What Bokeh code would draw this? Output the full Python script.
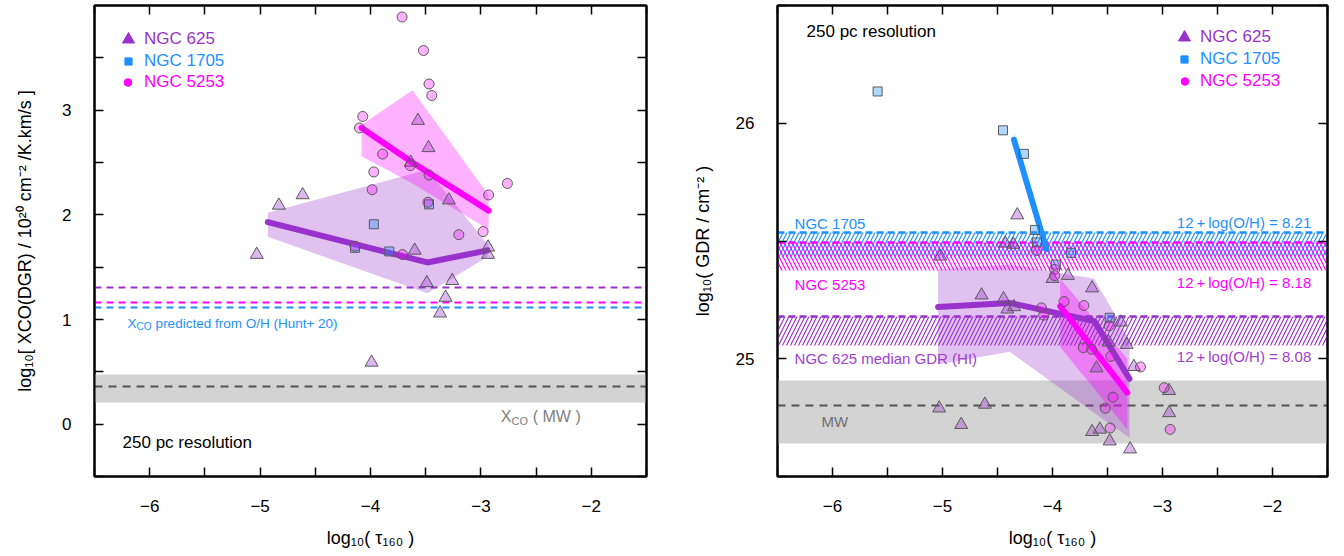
from bokeh.plotting import figure
from bokeh.layouts import row
from bokeh.models import (LinearAxis, FixedTicker, CustomJSTickFormatter, Legend,
                          LegendItem, Label)
from bokeh.embed import file_html
from bokeh.resources import INLINE

FONT = "Liberation Sans"
PURPLE = "#9932CC"
BLUE = "#1E90FF"
MAGENTA = "#FF00FF"
GREY_EDGE = "#5a5a5a"

# ---------------- shared axes ----------------
X_RANGE = (-6.5, -1.5)
X_MAJOR = [-6, -5, -4, -3, -2]
X_MINOR = [-6.5, -5.5, -4.5, -3.5, -2.5, -1.5]

# ---------------- left panel: log10 XCO(DGR) ----------------
L_Y_RANGE = (-0.5, 4.0)
L_Y_MAJOR = [0, 1, 2, 3]
L_Y_MINOR = [-0.5, 0.5, 1.5, 2.5, 3.5]

L625_tau = [-3.57, -3.475, -3.635, -4.615, -4.83, -3.29, -5.03, -3.60, -2.935, -2.935,
            -3.49, -3.26, -3.32, -3.37, -3.99]
L625_x = [2.90, 2.64, 2.50, 2.19, 2.09, 2.14, 1.62, 1.66, 1.69, 1.62,
          1.35, 1.37, 1.21, 1.06, 0.59]
L1705_tau = [-3.97, -4.14, -3.83, -3.47]
L1705_x = [1.91, 1.685, 1.65, 2.10]
L5253_tau = [-3.714, -3.52, -3.47, -3.445, -4.07, -4.10, -3.89, -3.64, -3.47, -3.97,
             -3.985, -2.76, -2.93, -3.48, -3.20, -2.98, -4.14, -3.71]
L5253_x = [3.89, 3.57, 3.25, 3.14, 2.94, 2.83, 2.58, 2.47, 2.38, 2.41,
           2.24, 2.30, 2.19, 2.12, 1.81, 1.84, 1.70, 1.62]

L625_med_tau = [-4.93, -3.485, -2.94]
L625_med = [1.93, 1.545, 1.66]
L625_hi = [2.02, 2.43, 1.72]
L625_lo = [1.79, 1.25, 1.60]
L5253_med_tau = [-4.08, -3.62, -2.93]
L5253_med = [2.83, 2.50, 2.04]
L5253_hi = [2.86, 3.19, 2.19]
L5253_lo = [2.56, 2.30, 1.86]

XCO_MW = [0.36]
XCO_MW_LO = [0.21]
XCO_MW_HI = [0.47]
XCO_PRED = [1.31, 1.165, 1.11]          # NGC 625, NGC 5253, NGC 1705
XCO_PRED_COLORS = [PURPLE, MAGENTA, BLUE]

# ---------------- right panel: log10 GDR ----------------
R_Y_RANGE = (24.5, 26.5)
R_Y_MAJOR = [25, 26]
R_Y_MINOR = [24.5, 25.5, 26.5]

R625_tau = [-4.32, -4.43, -4.355, -5.02, -4.0, -3.86, -3.64, -4.645, -4.445, -4.41,
            -4.35, -3.38, -3.49, -3.325, -3.60, -3.26, -2.94, -5.03, -4.615, -4.83,
            -2.94, -3.64, -3.57, -3.48, -3.295]
R625_g = [25.61, 25.49, 25.485, 25.435, 25.34, 25.353, 25.30, 25.27, 25.254, 25.21,
          25.22, 25.155, 25.07, 25.06, 24.96, 24.966, 24.864, 24.79, 24.806, 24.72,
          24.77, 24.69, 24.70, 24.65, 24.616]
R1705_tau = [-5.59, -4.45, -4.26, -4.16, -4.14, -3.83, -3.97, -3.48]
R1705_g = [26.135, 25.97, 25.87, 25.547, 25.494, 25.45, 25.40, 25.174]
R5253_tau = [-4.145, -3.98, -3.98, -4.10, -4.08, -3.895, -3.715, -3.485, -3.72, -3.645,
             -3.47, -3.20, -2.985, -3.45, -3.52, -2.93, -3.476]
R5253_g = [25.46, 25.38, 25.353, 25.216, 25.185, 25.243, 25.226, 25.14, 25.047, 25.04,
           25.01, 24.965, 24.877, 24.837, 24.79, 24.70, 24.706]

R625_med_tau = [-5.04, -4.39, -3.62, -3.30]
R625_med = [25.22, 25.237, 25.16, 24.915]
R625_hi = [25.38, 25.40, 25.34, 25.08]
R625_lo = [24.976, 25.03, 24.77, 24.665]
R5253_med_tau = [-3.93, -3.32]
R5253_med = [25.223, 24.856]
R5253_hi = [25.34, 25.00]
R5253_lo = [25.05, 24.70]
R1705_med_tau = [-4.35, -4.055]
R1705_med = [25.93, 25.466]
R1705_hi = [25.96, 25.475]
R1705_lo = [25.92, 25.455]

GDR_MW = [24.80]
GDR_MW_LO = [24.64]
GDR_MW_HI = [24.908]
GDR_1705_LO, GDR_1705_HI = [25.428], [25.534]
GDR_5253_LO, GDR_5253_HI = [25.375], [25.494]
GDR_625_LO, GDR_625_HI = [25.056], [25.178]

LEGEND = [("triangle", PURPLE, "NGC 625", 12),
          ("square", BLUE, "NGC 1705", 7),
          ("circle", MAGENTA, "NGC 5253", 7.6)]

minus_fmt = "return String(tick).replace('-', '\\u2212');"


def style_axis(ax, major, minor, labels=True):
    if labels:
        ax.ticker = FixedTicker(ticks=major, minor_ticks=minor)
    else:
        ax.ticker = FixedTicker(ticks=[], minor_ticks=sorted(major + minor))
    ax.major_tick_in = 9
    ax.major_tick_out = 0
    ax.minor_tick_in = 9
    ax.minor_tick_out = 0
    ax.major_tick_line_width = 1.5
    ax.minor_tick_line_width = 1.5
    ax.major_tick_line_color = "black"
    ax.minor_tick_line_color = "black"
    ax.axis_line_width = 2
    ax.axis_line_color = "black"
    ax.major_label_text_font = FONT
    ax.major_label_text_color = "black"
    ax.axis_label_text_font = FONT
    ax.axis_label_text_font_size = "18px"
    ax.axis_label_text_font_style = "normal"
    ax.axis_label_text_color = "black"
    ax.formatter = CustomJSTickFormatter(code=minus_fmt)
    ax.major_label_text_font_size = "17px"
    ax.major_label_standoff = 23 if labels else 0


def make_fig(y_range, ymaj, ymin, borders, xlabel, ylabel, ylab_standoff):
    l, r, t, b = borders
    p = figure(width=672, height=556, x_range=X_RANGE, y_range=y_range,
               output_backend="svg", toolbar_location=None,
               min_border_left=l, min_border_right=r, min_border_top=t, min_border_bottom=b)
    p.grid.visible = False
    p.outline_line_color = "black"
    p.outline_line_width = 2
    p.background_fill_color = "white"
    p.border_fill_color = "white"
    style_axis(p.xaxis[0], X_MAJOR, X_MINOR)
    style_axis(p.yaxis[0], ymaj, ymin)
    p.xaxis[0].axis_label = xlabel
    p.xaxis[0].axis_label_standoff = 13
    p.yaxis[0].axis_label = ylabel
    p.yaxis[0].axis_label_standoff = ylab_standoff
    top = LinearAxis()
    style_axis(top, X_MAJOR, X_MINOR, labels=False)
    p.add_layout(top, "above")
    right = LinearAxis()
    style_axis(right, ymaj, ymin, labels=False)
    p.add_layout(right, "right")
    return p


def add_legend(p, frame_h, glyph_cx, label_x, rows_from_top, samples):
    gh = 30
    for (marker, color, text, gsize), yc, (sx, sy) in zip(LEGEND, rows_from_top, samples):
        gw = int(round(gsize / 0.4))
        rr = p.scatter(x=[sx], y=[sy], marker=marker, fill_color=color, line_color=color,
                       visible=False)
        x0 = int(round(glyph_cx - gw / 2))
        leg = Legend(items=[LegendItem(label=text, renderers=[rr])],
                     location=(x0, int(round(frame_h - yc - gh / 2))),
                     glyph_width=gw, glyph_height=gh,
                     label_standoff=int(round(label_x - x0 - gw)),
                     padding=0, margin=0, spacing=0,
                     background_fill_alpha=0, border_line_alpha=0,
                     inactive_fill_alpha=0,
                     label_text_font=FONT, label_text_font_size="17px",
                     label_text_color=color, label_height=gh)
        p.add_layout(leg)


def add_points(p, tau625, v625, tau1705, v1705, tau5253, v5253):
    p.scatter(tau625, v625, marker="triangle", size=13, fill_color=PURPLE, fill_alpha=0.35,
              line_color=GREY_EDGE, line_width=1)
    p.scatter(tau1705, v1705, marker="square", size=9, fill_color=BLUE, fill_alpha=0.35,
              line_color=GREY_EDGE, line_width=1)
    p.scatter(tau5253, v5253, marker="circle", size=10, fill_color=MAGENTA, fill_alpha=0.3,
              line_color=GREY_EDGE, line_width=1)


def lab(p, x, y, text, size, color, align="left", x_off=0, y_off=0):
    p.add_layout(Label(x=x, y=y, text=text, text_font=FONT, text_font_size=size,
                       text_color=color, text_align=align, text_baseline="middle",
                       x_offset=x_off, y_offset=y_off))


# ================= LEFT =================
p1 = make_fig(L_Y_RANGE, L_Y_MAJOR, L_Y_MINOR, (94, 26, 3, 80),
              "log\u2081\u2080( \u03c4\u2081\u2086\u2080 )",
              "log\u2081\u2080[ XCO(DGR) / 10\u00b2\u2070 cm\u207b\u00b2 /K.km/s ]", 24)

p1.hstrip(y0=XCO_MW_LO, y1=XCO_MW_HI, fill_color="#D3D3D3", line_color=None)
p1.hspan(y=XCO_MW, line_color="#555555", line_dash="8 6", line_width=2)
p1.hspan(y=XCO_PRED, line_color=XCO_PRED_COLORS, line_dash="7 5", line_width=2)

p1.varea(x=L625_med_tau, y1=L625_lo, y2=L625_hi, fill_color=PURPLE, fill_alpha=0.3)
p1.varea(x=L5253_med_tau, y1=L5253_lo, y2=L5253_hi, fill_color=MAGENTA, fill_alpha=0.3)
p1.line(L625_med_tau, L625_med, line_color=PURPLE, line_width=6, line_cap="round")
p1.line(L5253_med_tau, L5253_med, line_color=MAGENTA, line_width=6, line_cap="round")
add_points(p1, L625_tau, L625_x, L1705_tau, L1705_x, L5253_tau, L5253_x)

add_legend(p1, 473, 33.7, 50.3, [36.0, 57.8, 79.2],
           [(L625_tau[0], L625_x[0]), (L1705_tau[0], L1705_x[0]), (L5253_tau[0], L5253_x[0])])
lab(p1, -6.246, -0.178, "250 pc resolution", "17px", "black")
lab(p1, -6.20, 0.965, "X", "13.5px", BLUE)
lab(p1, -6.20, 0.965, "CO", "10px", BLUE, x_off=9, y_off=-3.5)
lab(p1, -6.20, 0.965, "predicted from O/H (Hunt+ 20)", "13.5px", BLUE, x_off=28)
lab(p1, -2.82, 0.07, "X", "16px", "#808080")
lab(p1, -2.82, 0.07, "CO", "11px", "#808080", x_off=10.7, y_off=-4)
lab(p1, -2.82, 0.07, "( MW )", "16px", "#808080", x_off=32)

# ================= RIGHT =================
p2 = make_fig(R_Y_RANGE, R_Y_MAJOR, R_Y_MINOR, (105, 17, 5, 79),
              "log\u2081\u2080( \u03c4\u2081\u2086\u2080 )",
              "log\u2081\u2080( GDR / cm\u207b\u00b2 )", 20)

p2.hstrip(y0=GDR_MW_LO, y1=GDR_MW_HI, fill_color="#D3D3D3", line_color=None)
p2.hspan(y=GDR_MW, line_color="#555555", line_dash="8 6", line_width=2)

p2.varea(x=R625_med_tau, y1=R625_lo, y2=R625_hi, fill_color=PURPLE, fill_alpha=0.3)
p2.varea(x=R5253_med_tau, y1=R5253_lo, y2=R5253_hi, fill_color=MAGENTA, fill_alpha=0.35)
p2.varea(x=R1705_med_tau, y1=R1705_lo, y2=R1705_hi, fill_color=BLUE, fill_alpha=0.3)

p2.hstrip(y0=GDR_1705_LO, y1=GDR_1705_HI, fill_alpha=0, line_color=None,
          hatch_pattern="/", hatch_color=BLUE, hatch_scale=8, hatch_weight=1.2)
p2.hstrip(y0=GDR_5253_LO, y1=GDR_5253_HI, fill_alpha=0, line_color=None,
          hatch_pattern="\\", hatch_color=MAGENTA, hatch_scale=8, hatch_weight=1.2)
p2.hstrip(y0=GDR_625_LO, y1=GDR_625_HI, fill_alpha=0, line_color=None,
          hatch_pattern="/", hatch_color=PURPLE, hatch_scale=8, hatch_weight=1.2)
p2.hspan(y=GDR_1705_HI, line_color=BLUE, line_dash="7 4", line_width=2.5)
p2.hspan(y=GDR_5253_HI, line_color=MAGENTA, line_dash="7 4", line_width=2.5)
p2.hspan(y=GDR_625_HI, line_color=PURPLE, line_dash="7 4", line_width=2.5)

p2.line(R625_med_tau, R625_med, line_color=PURPLE, line_width=6, line_cap="round")
p2.line(R5253_med_tau, R5253_med, line_color=MAGENTA, line_width=6, line_cap="round")
p2.line(R1705_med_tau, R1705_med, line_color=BLUE, line_width=6, line_cap="round")
add_points(p2, R625_tau, R625_g, R1705_tau, R1705_g, R5253_tau, R5253_g)

add_legend(p2, 472, 407.3, 422.6, [33.0, 55.0, 76.5],
           [(R625_tau[0], R625_g[0]), (R1705_tau[0], R1705_g[0]), (R5253_tau[0], R5253_g[0])])
lab(p2, -6.236, 26.388, "250 pc resolution", "17px", "black")
lab(p2, -6.345, 25.575, "NGC 1705", "15px", BLUE)
lab(p2, -1.648, 25.58, "12\u2009+\u2009log(O/H) = 8.21", "15px", BLUE, align="right")
lab(p2, -6.345, 25.315, "NGC 5253", "15px", MAGENTA)
lab(p2, -1.648, 25.325, "12\u2009+\u2009log(O/H) = 8.18", "15px", MAGENTA, align="right")
lab(p2, -6.345, 25.001, "NGC 625 median GDR (HI)", "15px", "#A040D0")
lab(p2, -1.648, 25.008, "12\u2009+\u2009log(O/H) = 8.08", "15px", "#A040D0", align="right")
lab(p2, -6.10, 24.734, "MW", "15px", "#707070")

layout = row(p1, p2, spacing=0)
open("out.html", "w", encoding="utf-8").write(file_html(layout, INLINE))
